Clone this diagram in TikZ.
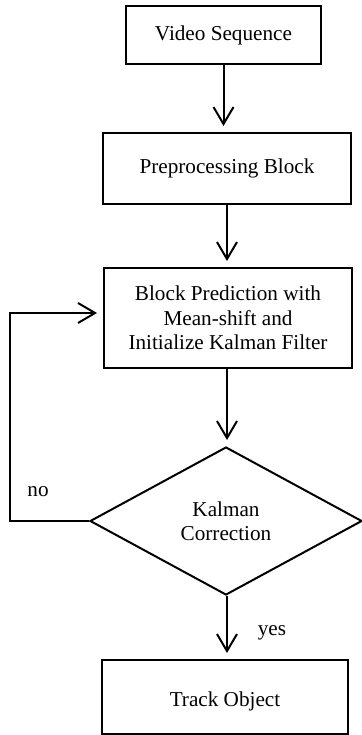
\documentclass[tikz,border=0pt]{standalone}
\usepackage{fontspec}
\setmainfont{Liberation Serif}
\usetikzlibrary{arrows.meta,shapes.geometric,calc}
\begin{document}
\begin{tikzpicture}[x=0.5pt,y=-0.5pt,
  every node/.style={font=\fontsize{10.6}{12.25}\selectfont},
  box/.style={draw,line width=1pt,rectangle,inner sep=0pt,align=center},
  decision/.style={draw,line width=1pt,diamond,inner sep=0pt,align=center},
  arr/.style={line width=1pt,-{Straight Barb[length=8.5pt,width=10pt]},shorten >=3pt},
  lbl/.style={inner sep=0pt}]
\useasboundingbox (0,0) rectangle (361,735);
\node[box,minimum width=97.5pt,minimum height=29pt] (video) at (223.5,35) {Video Sequence};
\node[box,minimum width=124pt,minimum height=35.5pt] (prep) at (227,168.5) {Preprocessing Block};
\node[box,minimum width=124pt,minimum height=50pt] (block) at (228,318) {Block Prediction with\\Mean-shift and\\Initialize Kalman Filter};
\node[decision,minimum width=136pt,minimum height=74pt] (kal) at (226,521) {Kalman\\Correction};
\node[box,minimum width=123pt,minimum height=37pt,text height=12pt,text depth=2.3pt] (track) at (225,697) {Track Object};
\coordinate (lp) at (10,521);
\draw[arr] (video.south) -- (video.south |- prep.north);
\draw[arr] (227,0 |- prep.south) -- (227,0 |- block.north);
\draw[arr] (227,0 |- block.south) -- (227,0 |- kal.north);
\draw[arr] (227,0 |- kal.south) -- (227,0 |- track.north);
\draw[arr] (kal.west) -- (lp) |- ($(block.west)+(0,-5)$);
\node[lbl] (no) at (38,492) {no};
\node[lbl] (yes) at (272,633) {yes};
\end{tikzpicture}
\end{document}
